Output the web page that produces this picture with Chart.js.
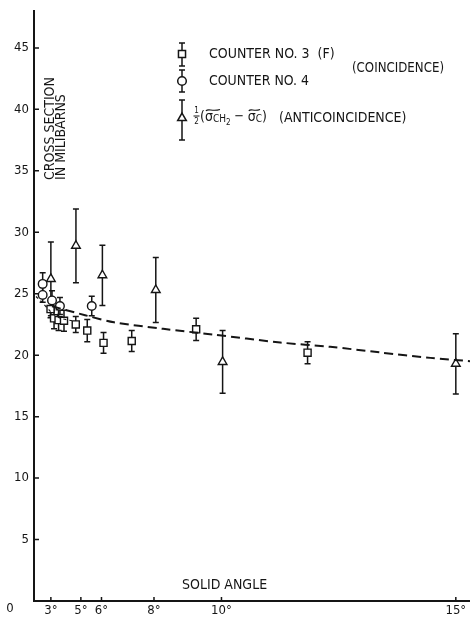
<!DOCTYPE html>
<html>
<head>
<meta charset="utf-8">
<script src="https://cdn.jsdelivr.net/npm/chart.js"></script>
<style>
  html, body { margin: 0; padding: 0; background: #fff; }
</style>
</head>
<body>
<canvas id="xsec" width="470" height="617"></canvas>
<script>
// counter no. 3 (F) - coincidence
const sqAngle = [2.97, 3.27, 3.62, 4.0, 4.72, 5.33, 6.09, 7.22, 9.3, 12.08];
const sqXsec  = [23.75, 23.0, 22.85, 22.8, 22.5, 22.0, 21.0, 21.15, 22.1, 20.2];
const sqErr   = [0.7, 0.85, 0.85, 0.85, 0.65, 0.9, 0.85, 0.85, 0.9, 0.9];

// counter no. 4 - coincidence
const ciAngle = [2.15, 2.15, 3.1, 3.72, 5.55];
const ciXsec  = [25.8, 24.9, 24.45, 24.0, 24.0];
const ciErr   = [0.9, 0.6, 0.8, 0.7, 0.8];

// 1/2 (sigma CH2 - sigma C) - anticoincidence
const trAngle = [3.0, 4.73, 6.04, 8.06, 10.03, 15.0];
const trXsec  = [26.2, 28.9, 26.5, 25.3, 19.45, 19.3];
const trErr   = [3.0, 3.0, 2.45, 2.65, 2.55, 2.45];

// calculated curves
const fitAngle = [3.1, 5.22, 6.53, 8.3, 9.77, 11.46, 12.57, 13.59, 14.54, 15.25];
const fitXsec  = [23.98, 23.25, 22.68, 22.14, 21.68, 21.03, 20.68, 20.22, 19.78, 19.51];
const lowAngle = [1.03, 2.07, 2.83, 3.27, 3.87, 4.5];
const lowXsec  = [24.77, 24.3, 23.68, 23.28, 22.97, 22.8];

const xTicks = [3, 5, 6, 8, 10, 15];
const yTicks = [5, 10, 15, 20, 25, 30, 35, 40, 45];

const ink = '#151515';
const face = "'DejaVu Sans Condensed', 'Liberation Sans Narrow', 'DejaVu Sans', sans-serif";

function pts(xs, ys) {
  return xs.map((v, i) => ({ x: v, y: ys[i] }));
}

// angle axis spaced by solid angle (square of the angle)
const Linear = Chart.LinearScale || Chart.registry.getScale('linear');
class SquareScale extends Linear {
  getPixelForValue(v) {
    const a = this.min * this.min, b = this.max * this.max;
    return this.getPixelForDecimal((v * v - a) / (b - a));
  }
  getValueForPixel(p) {
    const a = this.min * this.min, b = this.max * this.max;
    return Math.sqrt(a + this.getDecimalForPixel(p) * (b - a));
  }
}
SquareScale.id = 'square';
SquareScale.defaults = {};
Chart.register(SquareScale);

function errorBar(ctx, px, lo, hi) {
  ctx.beginPath();
  ctx.moveTo(px, lo); ctx.lineTo(px, hi);
  ctx.moveTo(px - 3, lo); ctx.lineTo(px + 3, lo);
  ctx.moveTo(px - 3, hi); ctx.lineTo(px + 3, hi);
  ctx.stroke();
}

function text(ctx, s, x, y, size, maxW) {
  ctx.font = size + 'px ' + face;
  if (maxW) ctx.fillText(s, x, y, maxW); else ctx.fillText(s, x, y);
  return x + Math.min(ctx.measureText(s).width, maxW || 1e9);
}

function legendMark(ctx, style, r, x, y, top, bottom) {
  errorBar(ctx, x, bottom, top);
  Chart.helpers.drawPoint(ctx, { pointStyle: style, radius: r, borderWidth: 1.4, rotation: 0 }, x, y);
}

const paper = {
  id: 'paper',
  beforeDatasetsDraw(chart) {
    const { ctx, scales: { x, y } } = chart;
    ctx.save();
    ctx.strokeStyle = ink;
    ctx.lineWidth = 1.5;
    chart.data.datasets.forEach(ds => {
      if (!ds.err) return;
      ds.data.forEach((p, i) => {
        errorBar(ctx, x.getPixelForValue(p.x),
          y.getPixelForValue(p.y - ds.err[i]), y.getPixelForValue(p.y + ds.err[i]));
      });
    });
    ctx.restore();
  },
  afterDraw(chart) {
    const { ctx, chartArea: area, scales: { x, y } } = chart;
    ctx.save();
    ctx.strokeStyle = ink;
    ctx.fillStyle = ink;
    ctx.lineWidth = 1.5;

    // tick marks point into the plot
    ctx.beginPath();
    xTicks.forEach(v => {
      const px = x.getPixelForValue(v);
      ctx.moveTo(px, area.bottom); ctx.lineTo(px, area.bottom - 4);
    });
    yTicks.forEach(v => {
      const py = y.getPixelForValue(v);
      ctx.moveTo(area.left, py); ctx.lineTo(area.left + 5, py);
    });
    ctx.stroke();

    ctx.textBaseline = 'middle';
    ctx.textAlign = 'center';
    text(ctx, '0', 10, 609, 13);

    ctx.textAlign = 'left';
    text(ctx, 'SOLID ANGLE', 182, 585, 14, 90);

    ctx.save();
    ctx.translate(50.5, 180);
    ctx.rotate(-Math.PI / 2);
    text(ctx, 'CROSS SECTION', 0, 0, 14, 108);
    text(ctx, 'IN MILIBARNS', 0, 11, 14, 93);
    ctx.restore();

    // key
    ctx.fillStyle = '#fff';
    legendMark(ctx, 'rect', 5, 182, 54, 43, 66);
    legendMark(ctx, 'circle', 4.3, 182, 81, 70, 92);
    legendMark(ctx, 'triangle', 5, 182, 118, 100, 140);
    ctx.fillStyle = ink;

    text(ctx, 'COUNTER NO. 3  (F)', 209, 54, 14, 134);
    text(ctx, 'COUNTER NO. 4', 209, 81, 14, 100);
    text(ctx, '(COINCIDENCE)', 352, 68, 14, 92);

    ctx.textAlign = 'center';
    text(ctx, '1', 196.5, 111, 8);
    text(ctx, '2', 196.5, 121.5, 8);
    ctx.lineWidth = 1;
    ctx.beginPath();
    ctx.moveTo(193.5, 116); ctx.lineTo(199.5, 116);
    ctx.stroke();

    ctx.textAlign = 'left';
    let cx = text(ctx, '(', 200, 117, 14);
    const s1 = cx;
    cx = text(ctx, 'σ', cx, 117, 14);
    cx = text(ctx, 'CH', cx, 119, 10);
    const e1 = cx;
    cx = text(ctx, '2', cx, 123, 8);
    cx = text(ctx, ' − ', cx, 117, 13);
    const s2 = cx;
    cx = text(ctx, 'σ', cx, 117, 14);
    cx = text(ctx, 'C', cx, 119, 10);
    const e2 = cx;
    text(ctx, ')', cx, 117, 14);

    // wavy marks over the sigmas
    ctx.lineWidth = 1.1;
    [[s1, e1 - 6], [s2, e2 - 2]].forEach(([a, b]) => {
      ctx.beginPath();
      ctx.moveTo(a + 1, 111);
      ctx.bezierCurveTo(a + 3, 108, (a + b) / 2, 112, b, 109.5);
      ctx.stroke();
    });

    text(ctx, '(ANTICOINCIDENCE)', 279, 118, 14, 150);
    ctx.restore();
  }
};

const marker = {
  showLine: false,
  borderColor: ink,
  backgroundColor: '#fff',
  pointBorderWidth: 1.4,
  pointBackgroundColor: '#fff',
  pointBorderColor: ink
};

new Chart(document.getElementById('xsec'), {
  type: 'scatter',
  data: {
    datasets: [
      { label: 'Calculated', data: pts(fitAngle, fitXsec), showLine: true, pointRadius: 0,
        borderColor: ink, borderWidth: 2, borderDash: [9, 5], tension: 0.3, fill: false },
      { label: 'Calculated (small angle)', data: pts(lowAngle, lowXsec), showLine: true, pointRadius: 0,
        borderColor: ink, borderWidth: 1.2, borderDash: [3, 3], tension: 0.3, fill: false },
      Object.assign({ label: 'COUNTER NO. 3 (F)', data: pts(sqAngle, sqXsec), err: sqErr,
        pointStyle: 'rect', pointRadius: 5 }, marker),
      Object.assign({ label: 'COUNTER NO. 4', data: pts(ciAngle, ciXsec), err: ciErr,
        pointStyle: 'circle', pointRadius: 4.3 }, marker),
      Object.assign({ label: '1/2 (σCH2 − σC)', data: pts(trAngle, trXsec), err: trErr,
        pointStyle: 'triangle', pointRadius: 5 }, marker)
    ]
  },
  options: {
    responsive: false,
    devicePixelRatio: 1,
    animation: false,
    layout: { autoPadding: false, padding: { top: 11, right: 0, bottom: 0, left: 0 } },
    plugins: { legend: { display: false }, tooltip: { enabled: false } },
    scales: {
      x: {
        type: 'square',
        min: 0,
        max: 15.25,
        grid: { display: false, drawTicks: false },
        border: { color: ink, width: 2 },
        ticks: {
          autoSkip: false, maxRotation: 0, padding: 2, color: ink,
          font: { family: face, size: 13 },
          callback: v => v + '°'
        },
        afterBuildTicks: s => { s.ticks = xTicks.map(v => ({ value: v })); },
        afterFit: s => { s.height = 16; s.paddingLeft = 0; s.paddingRight = 0; }
      },
      y: {
        min: 0,
        max: 48,
        grid: { display: false, drawTicks: false },
        border: { color: ink, width: 2 },
        ticks: { padding: 5, color: ink, font: { family: face, size: 13 } },
        afterBuildTicks: s => { s.ticks = yTicks.map(v => ({ value: v })); },
        afterFit: s => { s.width = 34; s.paddingTop = 0; s.paddingBottom = 0; }
      }
    }
  },
  plugins: [paper]
});
</script>
</body>
</html>
